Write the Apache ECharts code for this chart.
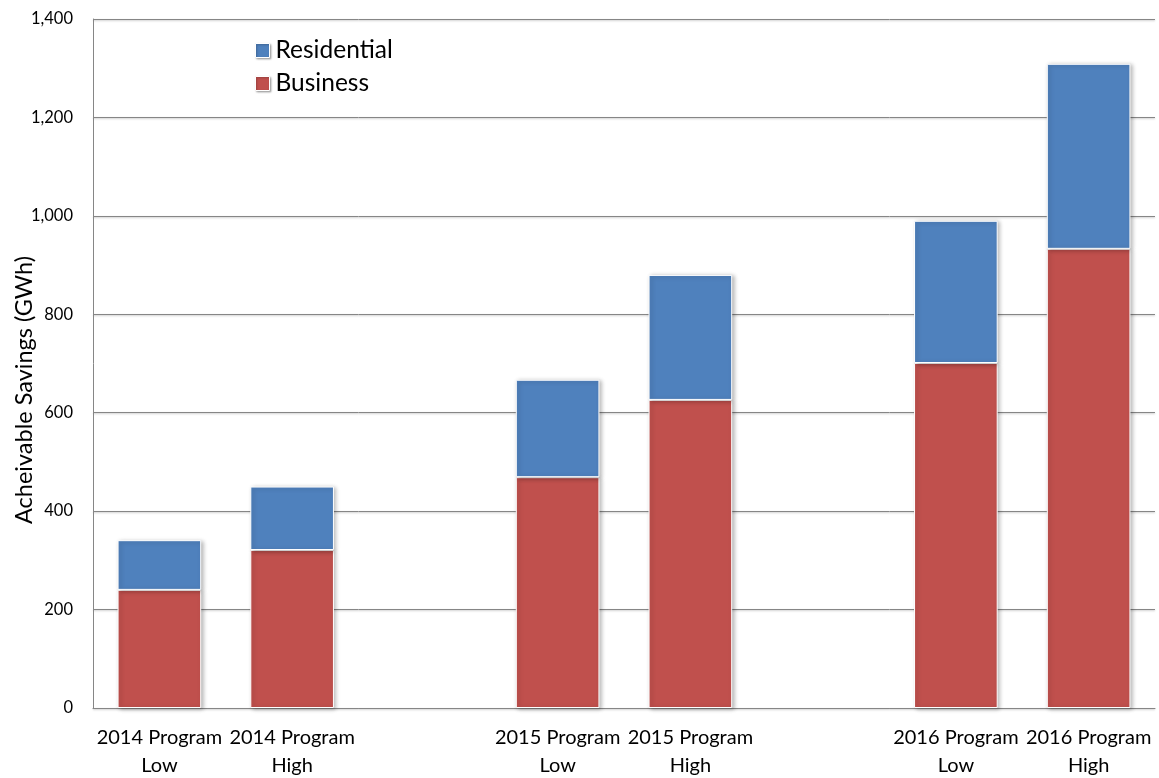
<!DOCTYPE html>
<html>
<head>
<meta charset="utf-8">
<script src="https://cdn.jsdelivr.net/npm/echarts@6/dist/echarts.min.js"></script>
<style>html,body{margin:0;padding:0;background:#fff}#c{width:1159px;height:778px}</style>
</head>
<body>
<div id="c"></div>
<script>
const categories = ['2014 Program\nLow', '2014 Program\nHigh', '', '2015 Program\nLow', '2015 Program\nHigh', '', '2016 Program\nLow', '2016 Program\nHigh'];
const business = [240, 321, null, 469, 626, null, 701, 933];
const residential = [101, 129, null, 198, 254, null, 289, 376];
const yTicks = { min: 0, max: 1400, interval: 200 };
const yTitle = 'Acheivable Savings (GWh)';

const FONT = 'Lato, "Liberation Sans", sans-serif';
const chart = echarts.init(document.getElementById('c'));
const barStyle = (color) => ({
  color: color,
  borderColor: '#ffffff',
  borderWidth: 1,
  shadowColor: 'rgba(0,0,0,0.28)',
  shadowBlur: 4,
  shadowOffsetX: 2,
  shadowOffsetY: 1
});
const legendIconStyle = { borderColor: '#ffffff', borderWidth: 1, shadowColor: 'rgba(0,0,0,0.3)', shadowBlur: 2, shadowOffsetX: 1, shadowOffsetY: 1 };
chart.setOption({
  animation: false,
  backgroundColor: '#ffffff',
  grid: { left: 93, right: 4, top: 19, bottom: 70, containLabel: false, outerBoundsMode: 'none' },
  legend: {
    orient: 'vertical',
    left: 250,
    top: 33,
    itemWidth: 14,
    itemHeight: 14,
    itemGap: 8,
    textStyle: { fontFamily: FONT, fontSize: 24.5, color: '#000', padding: [0, 0, 0, 1] },
    data: [
      { name: 'Residential', icon: 'rect', itemStyle: legendIconStyle },
      { name: 'Business', icon: 'rect', itemStyle: legendIconStyle }
    ]
  },
  graphic: [{
    type: 'text',
    x: 24,
    y: 390,
    rotation: Math.PI / 2,
    style: {
      text: yTitle,
      fontFamily: FONT,
      fontSize: 23.5,
      fill: '#000',
      align: 'center',
      verticalAlign: 'middle'
    }
  }],
  xAxis: {
    type: 'category',
    data: categories,
    axisLine: { lineStyle: { color: '#868686', width: 1 } },
    axisTick: { show: false },
    axisLabel: { interval: 0, fontFamily: FONT, fontSize: 20, color: '#000', lineHeight: 28, margin: 16 }
  },
  yAxis: {
    type: 'value',
    min: yTicks.min,
    max: yTicks.max,
    interval: yTicks.interval,
    axisLine: { show: true, lineStyle: { color: '#868686', width: 1 } },
    axisTick: { show: false },
    splitLine: { lineStyle: { color: '#868686', width: 1, shadowColor: 'rgba(0,0,0,0.25)', shadowBlur: 2, shadowOffsetY: 1 } },
    axisLabel: {
      fontFamily: FONT, fontSize: 16.5, color: '#000', margin: 20,
      formatter: (v) => v.toLocaleString('en-US')
    }
  },
  series: [
    { name: 'Business', type: 'bar', stack: 's', data: business, barWidth: '63%', itemStyle: barStyle('#C0504D') },
    { name: 'Residential', type: 'bar', stack: 's', data: residential, barWidth: '63%', itemStyle: barStyle('#4F81BD') }
  ]
});
</script>
</body>
</html>
